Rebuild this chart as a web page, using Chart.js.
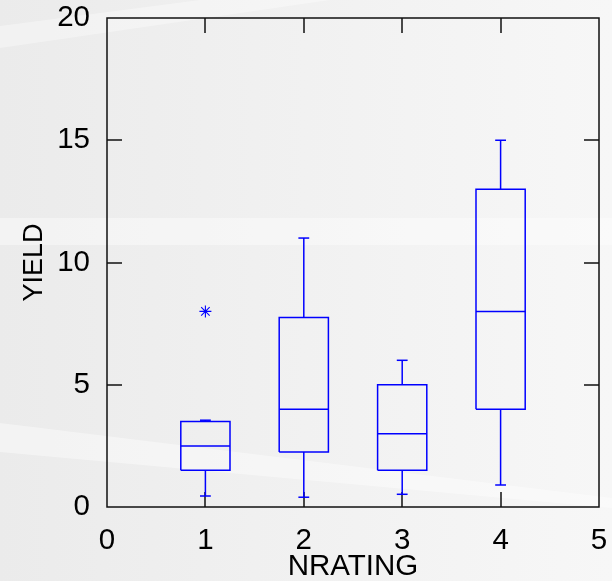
<!DOCTYPE html>
<html>
<head>
<meta charset="utf-8">
<script src="https://cdn.jsdelivr.net/npm/chart.js@4.4.0/dist/chart.umd.min.js"></script>
<style>
  html, body { margin: 0; padding: 0; background: #efefef; }
  #wrap { width: 612px; height: 581px; position: relative; }
</style>
</head>
<body>
<div id="wrap"><canvas id="myChart"></canvas></div>
<script>
// yield by nitrogen rating, one box per rating
const groups = [1, 2, 3, 4];
const whiskerLow = [0.45, 0.4, 0.52, 0.9];
const q1 = [1.5, 2.25, 1.5, 4.0];
const median = [2.5, 4.0, 3.0, 8.0];
const q3 = [3.5, 7.75, 5.0, 13.0];
const whiskerHigh = [3.55, 11.0, 6.0, 15.0];
const outlierX = [1];
const outlierY = [8];

const xTicks = [0, 1, 2, 3, 4, 5];
const yTicks = [0, 5, 10, 15, 20];

const BLUE = '#0000ff';
const boxHalf = 0.25;   // box half width, in x units
const capHalf = 0.055;  // whisker cap half width

function seg(points) {
  return {
    data: points,
    showLine: true,
    borderColor: BLUE,
    borderWidth: 1.5,
    pointRadius: 0,
    pointHoverRadius: 0,
    fill: false
  };
}

const datasets = [];
groups.forEach((g, i) => {
  const l = g - boxHalf, r = g + boxHalf;
  datasets.push(seg([{x: l, y: q1[i]}, {x: r, y: q1[i]}, {x: r, y: q3[i]}, {x: l, y: q3[i]}, {x: l, y: q1[i]}]));
  datasets.push(seg([{x: l, y: median[i]}, {x: r, y: median[i]}]));
  datasets.push(seg([{x: g, y: q1[i]}, {x: g, y: whiskerLow[i]}]));
  datasets.push(seg([{x: g - capHalf, y: whiskerLow[i]}, {x: g + capHalf, y: whiskerLow[i]}]));
  datasets.push(seg([{x: g, y: q3[i]}, {x: g, y: whiskerHigh[i]}]));
  datasets.push(seg([{x: g - capHalf, y: whiskerHigh[i]}, {x: g + capHalf, y: whiskerHigh[i]}]));
});
datasets.push({
  data: outlierX.map((x, i) => ({x: x, y: outlierY[i]})),
  showLine: false,
  pointStyle: 'star',
  pointRadius: 6,
  borderColor: BLUE,
  borderWidth: 1.1,
  backgroundColor: BLUE
});

// soft light streaks over the grey page
const backdrop = {
  id: 'backdrop',
  beforeDraw(chart) {
    const {ctx, width, height} = chart;
    ctx.save();
    const g = ctx.createLinearGradient(0, 0, width, 0);
    g.addColorStop(0, '#ebebeb');
    g.addColorStop(1, '#f7f7f7');
    ctx.fillStyle = g;
    ctx.fillRect(0, 0, width, height);
    ctx.fillStyle = 'rgba(255,255,255,0.35)';
    ctx.beginPath();
    ctx.moveTo(0, 26); ctx.lineTo(200, 0); ctx.lineTo(330, 0); ctx.lineTo(0, 48);
    ctx.closePath(); ctx.fill();
    ctx.fillStyle = 'rgba(255,255,255,0.4)';
    ctx.fillRect(0, 218, width, 27);
    ctx.beginPath();
    ctx.moveTo(0, 423); ctx.lineTo(612, 498); ctx.lineTo(612, 508); ctx.lineTo(0, 452);
    ctx.closePath(); ctx.fill();
    ctx.restore();
  }
};

// box frame with inward ticks on all four sides
const frame = {
  id: 'frame',
  beforeDatasetsDraw(chart) {
    const {ctx, chartArea: a, scales: {x, y}} = chart;
    const len = 15;
    ctx.save();
    ctx.strokeStyle = '#111';
    ctx.lineWidth = 1.5;
    ctx.strokeRect(a.left, a.top, a.right - a.left, a.bottom - a.top);
    ctx.beginPath();
    x.ticks.forEach(t => {
      const px = Math.round(x.getPixelForValue(t.value));
      if (px <= a.left + 1 || px >= a.right - 1) return;
      ctx.moveTo(px, a.bottom); ctx.lineTo(px, a.bottom - len);
      ctx.moveTo(px, a.top); ctx.lineTo(px, a.top + len);
    });
    y.ticks.forEach(t => {
      const py = Math.round(y.getPixelForValue(t.value));
      if (py <= a.top + 1 || py >= a.bottom - 1) return;
      ctx.moveTo(a.left, py); ctx.lineTo(a.left + len, py);
      ctx.moveTo(a.right, py); ctx.lineTo(a.right - len, py);
    });
    ctx.stroke();
    ctx.restore();
  }
};

const font = {family: '"Liberation Sans", Arial, sans-serif', size: 29.5};
const yTitleFont = {family: '"Liberation Sans", Arial, sans-serif', size: 27};

new Chart(document.getElementById('myChart'), {
  type: 'scatter',
  data: {datasets: datasets},
  options: {
    responsive: true,
    maintainAspectRatio: false,
    devicePixelRatio: 1,
    animation: false,
    layout: {padding: {top: 18, right: 13, bottom: 0, left: 0}},
    plugins: {legend: {display: false}, tooltip: {enabled: false}},
    scales: {
      x: {
        type: 'linear',
        min: 0, max: 5,
        afterBuildTicks: s => { s.ticks = xTicks.map(v => ({value: v})); },
        afterFit: s => { s.height = 74; s.paddingLeft = 0; s.paddingRight = 0; },
        grid: {display: false},
        border: {display: false},
        ticks: {font: font, color: '#000', padding: 8, maxRotation: 0},
        title: {display: true, text: 'NRATING', font: font, color: '#000', padding: {top: 0, bottom: -4}}
      },
      y: {
        type: 'linear',
        min: 0, max: 20,
        afterBuildTicks: s => { s.ticks = yTicks.map(v => ({value: v})); },
        afterFit: s => { s.width = 107; s.paddingTop = 0; s.paddingBottom = 0; },
        grid: {display: false},
        border: {display: false},
        ticks: {font: font, color: '#000', padding: 9},
        title: {display: true, text: 'YIELD', font: yTitleFont, color: '#000', padding: {top: 18, bottom: 0}}
      }
    }
  },
  plugins: [backdrop, frame]
});
</script>
</body>
</html>
